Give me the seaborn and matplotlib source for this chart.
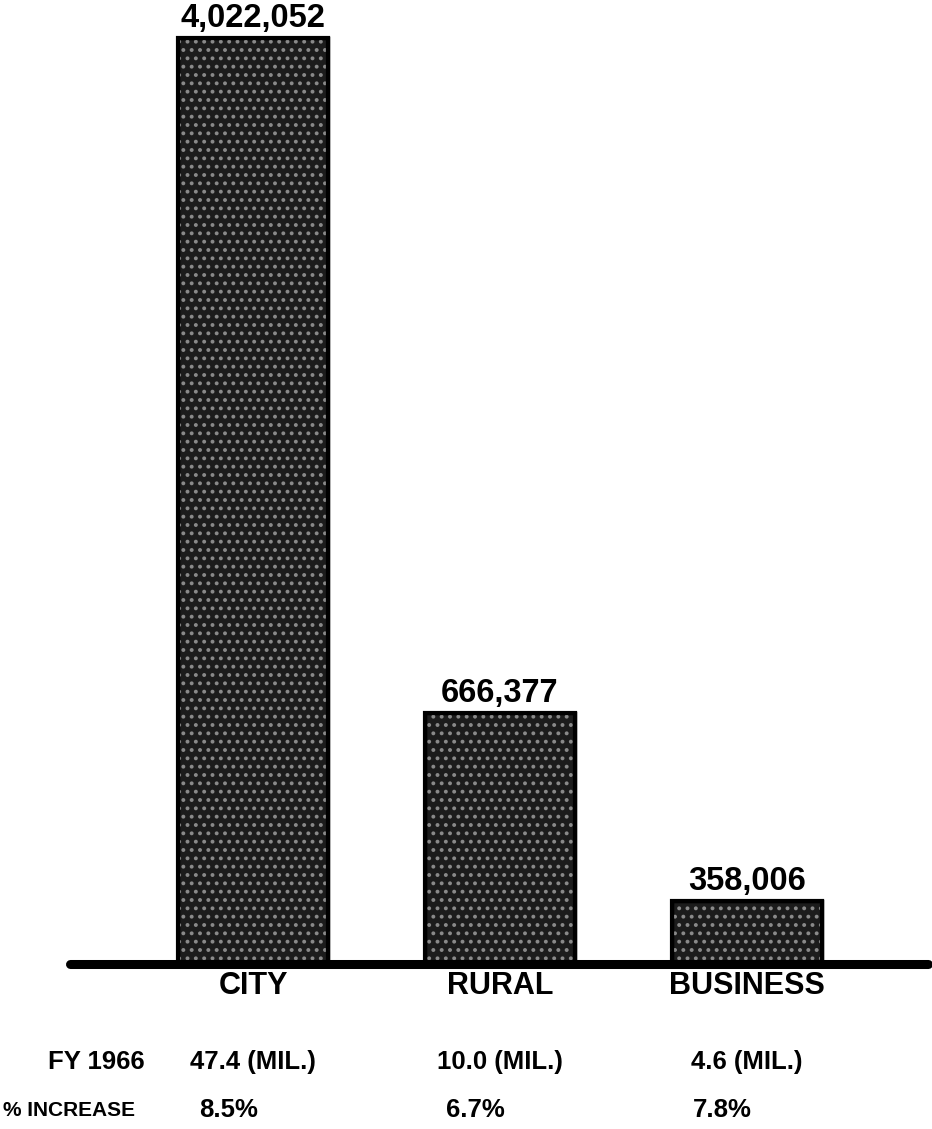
import numpy as np
import pandas as pd
import matplotlib
matplotlib.use('Agg')
import matplotlib.pyplot as plt
import matplotlib.transforms as mtransforms
from matplotlib.patches import Rectangle
import seaborn as sns

categories = ['CITY', 'RURAL', 'BUSINESS']
value_labels = ['4,022,052', '666,377', '358,006']
# the original chart is not drawn to scale, so bar heights are read off the picture
bar_heights = [4022052, 1090000, 275000]
fy_labels = ['47.4 (MIL.)', '10.0 (MIL.)', '4.6 (MIL.)']
pct_labels = ['8.5%', '6.7%', '7.8%']

sns.set_style('white')
plt.rcParams['font.family'] = ['Liberation Sans', 'DejaVu Sans']
plt.rcParams['text.color'] = 'black'
plt.rcParams['hatch.linewidth'] = 1.6

df = pd.DataFrame({'cat': categories, 'h': bar_heights})

fig = plt.figure(figsize=(9.32, 11.29), dpi=100)
ax = fig.add_axes([70 / 932, 165 / 1129, 858 / 932, 964 / 1129])

sns.barplot(data=df, x='cat', y='h', color='#1c1c1c', saturation=1,
            width=0.61, edgecolor='black', linewidth=2.5, ax=ax)

# speckled look of the printed bars
for p in list(ax.patches):
    ax.add_patch(Rectangle(p.get_xy(), p.get_width(), p.get_height(),
                           facecolor='none', edgecolor='#8a8a8a', linewidth=0,
                           hatch='..', zorder=p.get_zorder() + 0.1))
    ax.add_patch(Rectangle(p.get_xy(), p.get_width(), p.get_height(),
                           facecolor='none', edgecolor='black', linewidth=3,
                           zorder=p.get_zorder() + 0.2))

ax.set_xlim(-0.741, 2.733)
ax.set_ylim(0, bar_heights[0] * 964 / 926)
ax.axhline(0, color='black', linewidth=6.5, zorder=5, clip_on=False)
for s in ax.spines.values():
    s.set_visible(False)
ax.set_xticks([])
ax.set_yticks([])
ax.set_xlabel('')
ax.set_ylabel('')

for i, (h, lab) in enumerate(zip(bar_heights, value_labels)):
    ax.annotate(lab, (i, h), xytext=(0, 3), textcoords='offset points',
                ha='center', va='bottom', fontsize=23.5, fontweight='bold',
                color='black')

trans = mtransforms.blended_transform_factory(ax.transData, fig.transFigure)
for i, c in enumerate(categories):
    ax.text(i, 1 - 986 / 1129, c, transform=trans, ha='center', va='center',
            fontsize=22, fontweight='bold', clip_on=False)
for i, t in enumerate(fy_labels):
    ax.text(i, 1 - 1062 / 1129, t, transform=trans, ha='center', va='center',
            fontsize=18.5, fontweight='bold', clip_on=False)
for i, t in enumerate(pct_labels):
    ax.text(i - 0.1, 1 - 1110 / 1129, t, transform=trans, ha='center', va='center',
            fontsize=18.5, fontweight='bold', clip_on=False)

fig.text(145 / 932, 1 - 1062 / 1129, 'FY 1966', ha='right', va='center',
         fontsize=18.5, fontweight='bold')
fig.text(3 / 932, 1 - 1110 / 1129, '% INCREASE', ha='left', va='center',
         fontsize=15, fontweight='bold')

fig.savefig('out.png', dpi=100, facecolor='white')
